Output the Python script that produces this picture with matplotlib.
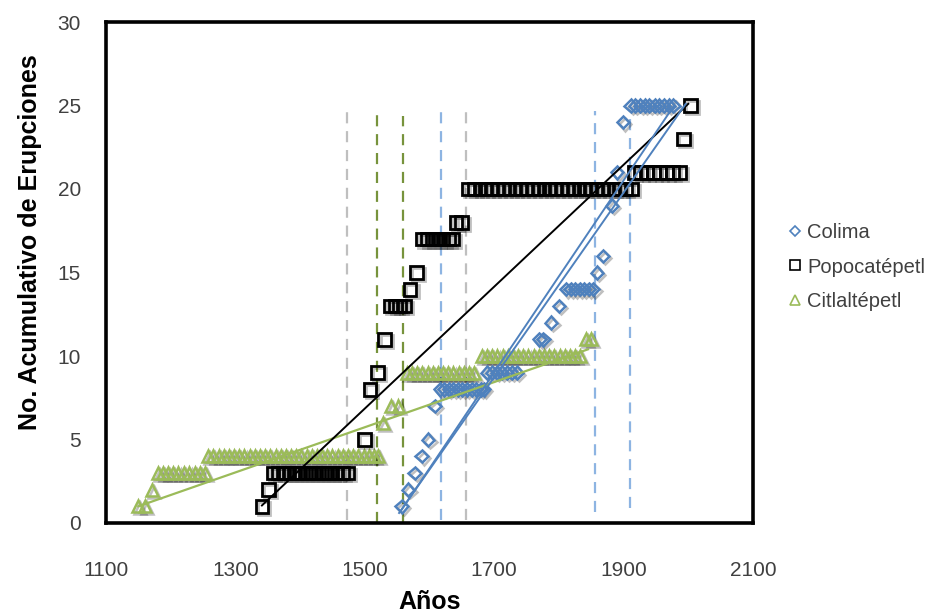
import numpy as np
import matplotlib
matplotlib.use("Agg")
import matplotlib.pyplot as plt
from matplotlib import patheffects as pe
from matplotlib.lines import Line2D

plt.rcParams['font.family'] = ['Liberation Sans', 'DejaVu Sans']

# ---------------- data ----------------
colima_years = [1557, 1567, 1577, 1588, 1598, 1608,
                1616, 1623, 1630, 1637, 1644, 1651, 1658, 1665, 1672, 1679, 1684,
                1689, 1697, 1704, 1712, 1720, 1727, 1735,
                1770, 1776, 1788, 1800,
                1811, 1818, 1825, 1832, 1839, 1846, 1853,
                1859, 1868, 1882, 1890, 1899,
                1911, 1918, 1926, 1933, 1940, 1948, 1955, 1962, 1970, 1977]
colima_vals = [1, 2, 3, 4, 5, 7,
               8, 8, 8, 8, 8, 8, 8, 8, 8, 8, 8,
               9, 9, 9, 9, 9, 9, 9,
               11, 11, 12, 13,
               14, 14, 14, 14, 14, 14, 14,
               15, 16, 19, 21, 24,
               25, 25, 25, 25, 25, 25, 25, 25, 25, 25]

popo_years = [1341, 1351,
              1358, 1366, 1374, 1383, 1391, 1399, 1408, 1416, 1424, 1433, 1441, 1449, 1457, 1466, 1474,
              1500, 1508, 1520, 1531,
              1540, 1547, 1554, 1561,
              1570, 1580,
              1589, 1597, 1605, 1613, 1621, 1629, 1636,
              1641, 1650,
              1660, 1669, 1678, 1687, 1696, 1705, 1714, 1723, 1732, 1741, 1750, 1759, 1768, 1777, 1786,
              1795, 1804, 1813, 1822, 1831, 1840, 1849, 1858, 1867, 1876, 1885, 1894, 1903, 1912,
              1916, 1926, 1936, 1946, 1956, 1966, 1976, 1986,
              1992, 2003]
popo_vals = [1, 2,
             3, 3, 3, 3, 3, 3, 3, 3, 3, 3, 3, 3, 3, 3, 3,
             5, 8, 9, 11,
             13, 13, 13, 13,
             14, 15,
             17, 17, 17, 17, 17, 17, 17,
             18, 18,
             20, 20, 20, 20, 20, 20, 20, 20, 20, 20, 20, 20, 20, 20, 20,
             20, 20, 20, 20, 20, 20, 20, 20, 20, 20, 20, 20, 20, 20,
             21, 21, 21, 21, 21, 21, 21, 21,
             23, 25]

citla_years = [1149, 1160, 1171,
               1180, 1188, 1196, 1204, 1212, 1220, 1229, 1237, 1245, 1253,
               1258, 1266, 1274, 1282, 1290, 1298, 1306, 1314, 1322, 1330, 1338, 1346, 1354, 1362, 1370, 1378, 1386,
               1394, 1402, 1410, 1418, 1426, 1434, 1442, 1450, 1458, 1466, 1474, 1482, 1490, 1498, 1506, 1514, 1521,
               1528, 1540, 1552,
               1565, 1573, 1581, 1589, 1597, 1605, 1613, 1621, 1629, 1637, 1645, 1653, 1661, 1669,
               1681, 1689, 1697, 1705, 1713, 1721, 1729, 1737, 1745, 1753, 1761, 1769, 1777, 1785, 1793, 1801,
               1809, 1817, 1825, 1833,
               1842, 1850]
citla_vals = [1, 1, 2,
              3, 3, 3, 3, 3, 3, 3, 3, 3, 3,
              4, 4, 4, 4, 4, 4, 4, 4, 4, 4, 4, 4, 4, 4, 4, 4, 4,
              4, 4, 4, 4, 4, 4, 4, 4, 4, 4, 4, 4, 4, 4, 4, 4, 4,
              6, 7, 7,
              9, 9, 9, 9, 9, 9, 9, 9, 9, 9, 9, 9, 9, 9,
              10, 10, 10, 10, 10, 10, 10, 10, 10, 10, 10, 10, 10, 10, 10, 10,
              10, 10, 10, 10,
              11, 11]

# trend lines (start / end)
citla_trend_years = [1150, 1845]
citla_trend_vals = [1.0, 10.4]
popo_trend_years = [1341, 2000]
popo_trend_vals = [1.05, 25.1]
colima_trend1_years = [1557, 1978]
colima_trend1_vals = [0.8, 25.0]
colima_trend2_years = [1553, 1996]
colima_trend2_vals = [0.6, 25.1]

# reference (dashed) years
vline_years = [1472, 1519, 1559, 1618, 1656, 1856, 1910]
vline_kind = ['gris', 'verde', 'verde', 'azul', 'gris', 'azul', 'azul']
vline_bottom = [0.2, 0, 0, 0.2, 0.2, 0.65, 0.9]
vline_top = [24.6, 24.5, 24.4, 24.7, 24.6, 24.7, 24.7]

series_names = ['Colima', 'Popocatépetl', 'Citlaltépetl']
x_ticks = [1100, 1300, 1500, 1700, 1900, 2100]
y_ticks = [0, 5, 10, 15, 20, 25, 30]

# ---------------- style ----------------
BLUE = '#4F81BD'
GREEN = '#9BBB59'
kind_color = {'gris': '#BFBFBF', 'verde': '#77933C', 'azul': '#8DB4E2'}
TXT = '#404040'

fig = plt.figure(figsize=(9.43, 6.13), dpi=100)
ax = fig.add_axes([106 / 943, 1 - 523 / 613, (753 - 106) / 943, (523 - 22) / 613])

shadow = [pe.SimpleLineShadow(offset=(1.5, -1.5), shadow_color='k', alpha=0.25), pe.Normal()]

for yr, kind, b, t in zip(vline_years, vline_kind, vline_bottom, vline_top):
    ax.vlines(yr, b, t, colors=kind_color[kind], linestyles=(0, (5, 3.5)), linewidth=1.6, zorder=1)

# markers
ax.plot(citla_years, citla_vals, ls='none', marker='^', ms=8.5, mfc='none', mec=GREEN, mew=1.8,
        zorder=3, path_effects=shadow)
ax.plot(popo_years, popo_vals, ls='none', marker='s', ms=9.2, mfc='none', mec='black', mew=2.0,
        zorder=4, path_effects=shadow)
ax.plot(colima_years, colima_vals, ls='none', marker='D', ms=6.4, mfc='none', mec=BLUE, mew=1.8,
        zorder=5, path_effects=shadow)

# trend lines
ax.plot(citla_trend_years, citla_trend_vals, color=GREEN, lw=1.6, zorder=6)
ax.plot(popo_trend_years, popo_trend_vals, color='black', lw=1.4, zorder=6)
ax.plot(colima_trend1_years, colima_trend1_vals, color=BLUE, lw=1.4, zorder=6)
ax.plot(colima_trend2_years, colima_trend2_vals, color=BLUE, lw=1.4, zorder=6)

ax.set_xlim(x_ticks[0], x_ticks[-1])
ax.set_ylim(y_ticks[0], y_ticks[-1])
ax.set_xticks(x_ticks)
ax.set_yticks(y_ticks)
ax.tick_params(axis='both', length=0, labelsize=15, labelcolor=TXT)
ax.tick_params(axis='x', pad=27)
ax.tick_params(axis='y', pad=18)
for s in ax.spines.values():
    s.set_linewidth(2.6)
    s.set_color('black')

fig.text(430 / 943, 1 - 602 / 613, 'Años', ha='center', va='center', fontsize=18, fontweight='bold')
fig.text(30 / 943, 1 - 242 / 613, 'No. Acumulativo de Erupciones', ha='center', va='center',
         rotation=90, fontsize=18, fontweight='bold')

handles = [
    Line2D([], [], ls='none', marker='D', ms=5, mfc='none', mec=BLUE, mew=1.2),
    Line2D([], [], ls='none', marker='s', ms=7, mfc='none', mec='black', mew=1.2),
    Line2D([], [], ls='none', marker='^', ms=7, mfc='none', mec=GREEN, mew=1.2),
]
leg = fig.legend(handles, series_names, loc='center left', bbox_to_anchor=(789 / 943, 1 - 267 / 613),
                 frameon=False, fontsize=14.5, handlelength=0.6, handletextpad=0.3, labelspacing=0.75,
                 borderpad=0, borderaxespad=0)
for t in leg.get_texts():
    t.set_color(TXT)

fig.savefig('out.png', dpi=100)
